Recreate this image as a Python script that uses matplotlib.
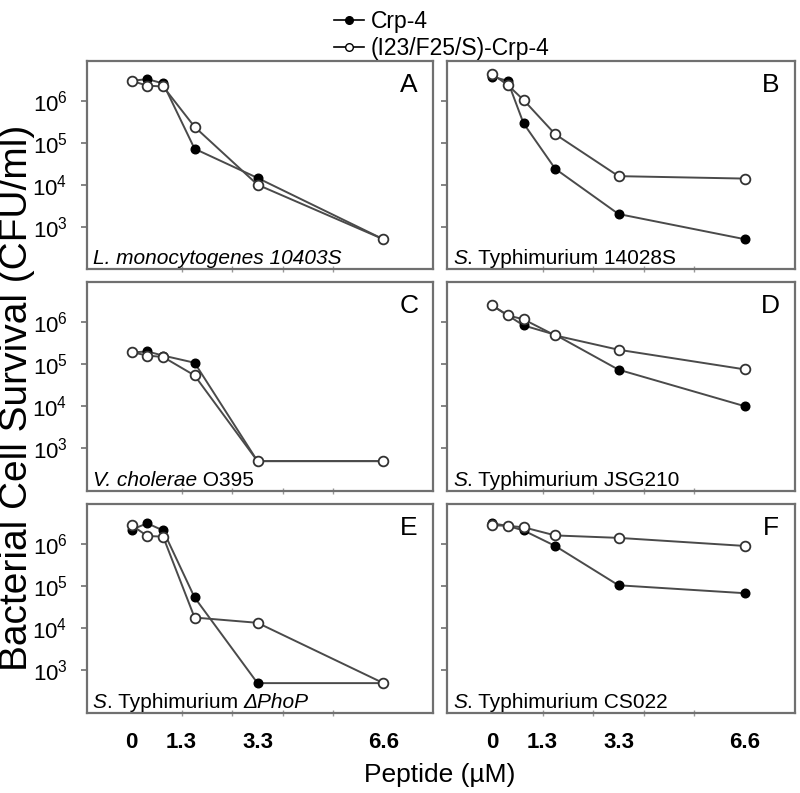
import matplotlib
matplotlib.use("Agg")
import matplotlib.pyplot as plt
from matplotlib.lines import Line2D
from matplotlib.ticker import FixedLocator, NullFormatter

plt.rcParams['font.family'] = ['Liberation Sans', 'DejaVu Sans']
plt.rcParams['mathtext.fontset'] = 'custom'
plt.rcParams['mathtext.rm'] = 'Liberation Sans'
plt.rcParams['mathtext.it'] = 'Liberation Sans:italic'
plt.rcParams['mathtext.bf'] = 'Liberation Sans:bold'

# ---------------- data ----------------
conc = [0, 0.41, 0.825, 1.65, 3.3, 6.6]          # peptide (uM)
xtick_labels = ["0", "1.3", "3.3", "6.6"]
xtick_pos = [0, 1.3, 3.3, 6.6]
series_names = ["Crp-4", "(I23/F25/S)-Crp-4"]
panel_letters = ["A", "B", "C", "D", "E", "F"]
# (italic part, upright part, italic tail)
strains = [("L. monocytogenes 10403S", "", ""),
           ("S", ". Typhimurium 14028S", ""),
           ("V. cholerae", " O395", ""),
           ("S", ". Typhimurium JSG210", ""),
           ("S", ". Typhimurium ", "ΔPhoP"),
           ("S", ". Typhimurium CS022", "")]

A_crp4 = [3.0e6, 3.3e6, 2.6e6, 7.2e4, 1.45e4, 5e2]
A_mut = [3.0e6, 2.3e6, 2.2e6, 2.4e5, 1.0e4, 5e2]
B_crp4 = [3.8e6, 3.0e6, 2.9e5, 2.4e4, 2.0e3, 5e2]
B_mut = [4.4e6, 2.4e6, 1.05e6, 1.6e5, 1.6e4, 1.4e4]
C_crp4 = [1.9e5, 2.0e5, 1.6e5, 1.08e5, 5e2, 5e2]
C_mut = [1.93e5, 1.6e5, 1.48e5, 5.4e4, 5e2, 5e2]
D_crp4 = [2.5e6, 1.45e6, 8.3e5, 5.0e5, 7.4e4, 1.0e4]
D_mut = [2.5e6, 1.44e6, 1.16e6, 4.8e5, 2.2e5, 7.5e4]
E_crp4 = [2.2e6, 3.1e6, 2.1e6, 5.4e4, 5e2, 5e2]
E_mut = [2.8e6, 1.55e6, 1.5e6, 1.8e4, 1.35e4, 5e2]
F_crp4 = [3.1e6, 2.7e6, 2.1e6, 9.0e5, 1.05e5, 6.8e4]
F_mut = [2.8e6, 2.7e6, 2.5e6, 1.6e6, 1.4e6, 9.0e5]

crp4_all = [A_crp4, B_crp4, C_crp4, D_crp4, E_crp4, F_crp4]
mut_all = [A_mut, B_mut, C_mut, D_mut, E_mut, F_mut]

ytick_vals = [1e3, 1e4, 1e5, 1e6]
ytick_labels = [r"$10^{3}$", r"$10^{4}$", r"$10^{5}$", r"$10^{6}$"]

# ---------------- layout ----------------
W, H = 800, 793
fig = plt.figure(figsize=(W / 100, H / 100), dpi=100)

col_x = [(87, 433), (447, 795)]
row_y = [(61, 269), (282, 491), (504, 713)]

frame_col = "#707070"
line_col = "#4a4a4a"

fig.canvas.draw()
renderer = fig.canvas.get_renderer()


def strain_label(ax, parts, fs=15):
    x = 0.017
    y = 0.025
    trans = ax.transAxes
    for txt, style in zip(parts, ["italic", "normal", "italic"]):
        if not txt:
            continue
        t = ax.text(x, y, txt, transform=trans, fontsize=fs, ha="left",
                    va="baseline", style=style)
        bb = t.get_window_extent(renderer=renderer)
        w_ax = bb.width / ax.get_window_extent(renderer=renderer).width
        x += w_ax


axes = []
for i in range(6):
    r, c = divmod(i, 2)
    x0, x1 = col_x[c]
    y0, y1 = row_y[r]
    ax = fig.add_axes([x0 / W, 1 - y1 / H, (x1 - x0) / W, (y1 - y0) / H])
    axes.append(ax)
    ax.set_yscale("log")
    ax.set_xlim(-1.17, 7.9)
    ax.set_ylim(10 ** 1.99, 10 ** 6.95)

    ax.plot(conc, crp4_all[i], color=line_col, lw=1.4, marker="o", ms=6.2,
            mfc="black", mec="black", zorder=3)
    ax.plot(conc, mut_all[i], color=line_col, lw=1.4, marker="o", ms=7,
            mfc="white", mec="#333333", mew=1.3, zorder=4)

    for s in ax.spines.values():
        s.set_color(frame_col)
        s.set_linewidth(1.6)

    ax.yaxis.set_major_locator(FixedLocator(ytick_vals))
    ax.yaxis.set_minor_locator(FixedLocator([]))
    if c == 0:
        ax.set_yticklabels(ytick_labels, fontsize=16)
    else:
        ax.yaxis.set_major_formatter(NullFormatter())
    ax.tick_params(axis="y", which="major", direction="out", length=4,
                   color=frame_col, width=1.2, pad=10)

    ax.xaxis.set_minor_locator(FixedLocator([k * 1.32 for k in range(6)]))
    ax.tick_params(axis="x", which="minor", direction="inout", length=4,
                   color="#999999", width=1)
    ax.set_xticks(xtick_pos)
    if r == 2:
        ax.set_xticklabels(xtick_labels, fontsize=16, fontweight="bold")
    else:
        ax.set_xticklabels([])
    ax.tick_params(axis="x", which="major", length=0, pad=14)

    ax.text(0.93, 0.885, panel_letters[i], transform=ax.transAxes,
            fontsize=19, ha="center", va="center")
    strain_label(ax, strains[i])

# legend
handles = [Line2D([], [], color="black", lw=1.2, marker="o", ms=5.5,
                  mfc="black", mec="black"),
           Line2D([], [], color="black", lw=1.2, marker="o", ms=5.5,
                  mfc="white", mec="black")]
fig.legend(handles, series_names, loc="upper left",
           bbox_to_anchor=(320 / W, 1 + 4 / H), frameon=False, fontsize=16.5,
           handlelength=1.3, handletextpad=0.3, labelspacing=0.2,
           borderpad=0.1)

fig.text(17 / W, 1 - 398 / H, "Bacterial Cell Survival (CFU/ml)", rotation=90,
         fontsize=28, ha="center", va="center")
fig.text(440 / W, 1 - 775 / H, "Peptide (µM)", fontsize=19,
         ha="center", va="center")

fig.savefig("out.png", dpi=100)
